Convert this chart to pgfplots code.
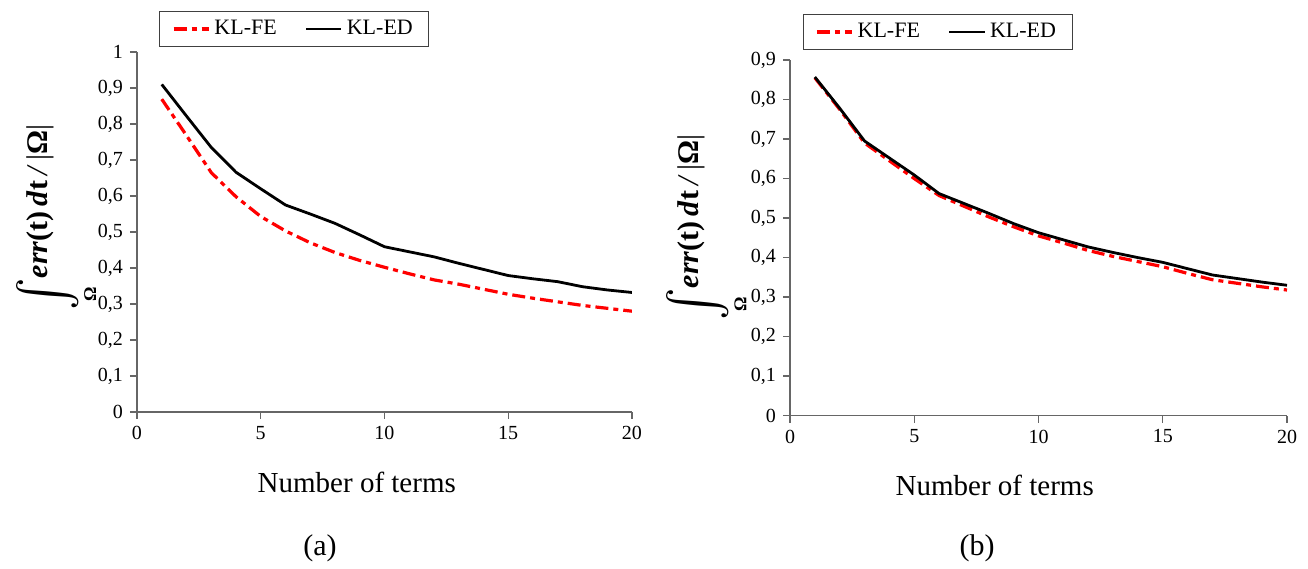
\documentclass[border=0pt]{standalone}
\usepackage{amsmath}
\usepackage{graphicx}
\usepackage{fontspec}
\setmainfont{Liberation Serif}
\usepackage{pgfplots}
\pgfplotsset{compat=1.18}
\definecolor{axgray}{gray}{0.4}
\pgfplotsset{
  myaxis/.style={
    scale only axis,
    axis lines=left,
    axis line style={axgray, line width=0.8pt, -},
    xmin=0, xmax=20, ymin=0,
    xtick={0,5,10,15,20},
    tick align=outside,
    major tick length=3.5pt,
    tick style={axgray, line width=0.7pt},
    tick label style={font=\fontsize{10}{12}\selectfont},
    /pgf/number format/.cd, use comma, fixed, assume math mode=true,
    /pgfplots/.cd,
    xlabel={Number of terms},
    xlabel style={font=\fontsize{14.5}{16}\selectfont},
    ylabel style={font=\fontsize{15}{16}\selectfont},
    legend columns=2,
    legend style={draw=black!75, line width=0.5pt, font=\fontsize{11}{13}\selectfont, anchor=center,
      inner xsep=6pt, inner ysep=2.5pt,
      /tikz/every even column/.append style={column sep=12pt}},
    legend image code/.code={\draw[##1] (0cm,0cm) -- (0.62cm,0cm);},
  },
  fe/.style={red, line width=1.6pt, dash pattern=on 6.5pt off 2.5pt on 2.5pt off 2.5pt},
  ed/.style={black, line width=1.4pt},
}
\newcommand{\ylab}{$\mathop{\raisebox{-3.5pt}{$\vcenter{\hbox{\scalebox{1.7}[1.95]{$\int$}}}$}}\limits_{\hbox{\raisebox{0pt}[3pt][0pt]{\fontsize{9}{9}\selectfont\bfseries Ω}}}$\textbf{\textit{err}(t)}\,\textbf{\textit{d}t}\,\textit{/}\,|\textbf{Ω}|}
\begin{document}
\begin{tikzpicture}
\path (0,0) rectangle (654pt,281.5pt);
% (a)
\begin{axis}[myaxis,
  at={(68.5pt,75.5pt)}, anchor=south west,
  width=247.5pt, height=180pt,
  ymax=1, ytick={0,0.1,...,1.01},
  xlabel style={at={(axis description cs:0.444,-0.197)}, anchor=center},
  ylabel={\ylab},
  ylabel style={at={(axis description cs:-0.18,0.54)}, anchor=base},
  legend style={at={(axis description cs:0.318,1.064)}},
]
\addplot[fe] coordinates {(1,0.869) (2,0.768) (3,0.665) (4,0.598) (5,0.543) (6,0.503) (7,0.470) (8,0.443) (9,0.421) (10,0.402) (11,0.384) (12,0.367) (13,0.355) (14,0.341) (15,0.327) (16,0.316) (17,0.306) (18,0.296) (19,0.288) (20,0.280)};
\addlegendentry{KL-FE}
\addplot[ed] coordinates {(1,0.910) (2,0.822) (3,0.735) (4,0.666) (5,0.620) (6,0.575) (7,0.550) (8,0.524) (9,0.492) (10,0.459) (11,0.445) (12,0.431) (13,0.413) (14,0.396) (15,0.379) (16,0.370) (17,0.362) (18,0.348) (19,0.339) (20,0.332)};
\addlegendentry{KL-ED}
\end{axis}
% (b)
\begin{axis}[myaxis,
  at={(395pt,73.65pt)}, anchor=south west,
  width=248.5pt, height=177.85pt,
  ymax=0.9, ytick={0,0.1,...,0.91},
  xlabel style={at={(axis description cs:0.412,-0.195)}, anchor=center},
  ylabel={\ylab},
  ylabel style={at={(axis description cs:-0.185,0.529)}, anchor=base},
  legend style={at={(axis description cs:0.297,1.079)}},
]
\addplot[fe] coordinates {(1,0.855) (2,0.775) (3,0.690) (4,0.645) (5,0.600) (6,0.557) (7,0.530) (8,0.503) (9,0.478) (10,0.455) (11,0.437) (12,0.418) (13,0.403) (14,0.390) (15,0.377) (16,0.360) (17,0.344) (18,0.335) (19,0.326) (20,0.318)};
\addlegendentry{KL-FE}
\addplot[ed] coordinates {(1,0.857) (2,0.778) (3,0.695) (4,0.652) (5,0.609) (6,0.562) (7,0.537) (8,0.512) (9,0.486) (10,0.463) (11,0.445) (12,0.427) (13,0.413) (14,0.400) (15,0.388) (16,0.372) (17,0.356) (18,0.347) (19,0.338) (20,0.330)};
\addlegendentry{KL-ED}
\end{axis}
\node[font=\fontsize{15}{17}\selectfont] at (160pt,7.5pt) {(a)};
\node[font=\fontsize{15}{17}\selectfont] at (488.5pt,7.5pt) {(b)};
\end{tikzpicture}
\end{document}
